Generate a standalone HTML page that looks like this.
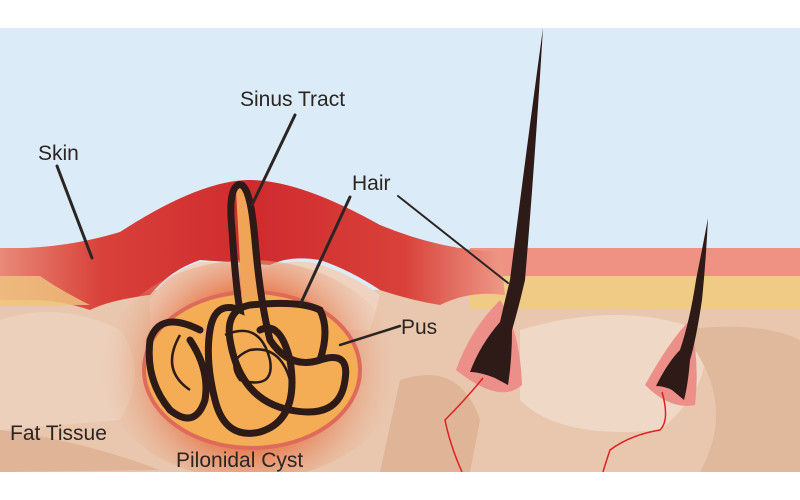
<!DOCTYPE html>
<html><head><meta charset="utf-8"><style>
html,body{margin:0;padding:0;background:#fff}
svg{display:block}
text{font-family:"Liberation Sans",sans-serif;fill:#2b2523}
</style></head><body>
<svg width="800" height="500" viewBox="0 0 800 500">
<defs>
<radialGradient id="glow" cx="250" cy="370" r="150" gradientUnits="userSpaceOnUse">
<stop offset="0.5" stop-color="#e8774a"/><stop offset="1" stop-color="#e8c0a5" stop-opacity="0"/>
</radialGradient>
<linearGradient id="red" x1="0" x2="1"><stop offset="0" stop-color="#e88a78"/><stop offset="0.2" stop-color="#d9413a"/><stop offset="0.5" stop-color="#cf2b2e"/><stop offset="0.8" stop-color="#d9413a"/><stop offset="1" stop-color="#ee9a88"/></linearGradient>
</defs>
<rect x="0" y="28" width="800" height="444" fill="#dcebf8"/>
<rect x="0" y="290" width="800" height="182" fill="#e9c7ae"/>
<path d="M0 320 Q60 300 120 330 Q150 370 120 420 L0 430Z" fill="#ecd0bb"/>
<path d="M520 330 Q620 300 700 330 Q720 380 660 430 Q560 440 520 400Z" fill="#efd8c6"/>
<path d="M0 430 Q80 440 160 470 L0 472Z" fill="#dfb497"/>
<path d="M680 330 Q760 320 800 340 L800 472 L700 472 Q740 400 680 330Z" fill="#e0b89c"/>
<path d="M400 380 Q460 360 480 420 L470 472 L380 472Z" fill="#dfb497"/>
<rect x="470" y="248" width="330" height="28" fill="#ef9283"/>
<rect x="470" y="276" width="330" height="33" fill="#efcb85"/>
<rect x="0" y="248" width="60" height="28" fill="#e58272"/>
<rect x="0" y="276" width="60" height="30" fill="#efc680"/>
<path d="M0 248 Q60 250 120 232 Q200 180 250 180 Q300 180 380 225 Q440 250 500 252 L505 295 Q470 290 440 305 Q410 300 380 290 Q350 270 320 260 Q290 255 270 265 Q230 262 200 260 Q170 270 150 295 Q110 300 90 310 Q60 300 30 300 L0 300Z" fill="url(#red)"/>
<path d="M0 276 L40 276 Q60 290 90 305 L0 305Z" fill="#efc680" opacity="0.8"/>
<path d="M150 300 Q170 270 200 262 Q230 262 265 268 Q300 255 330 268 Q360 280 380 295 L370 330 L150 330Z" fill="#efd3c0"/>
<ellipse cx="250" cy="370" rx="150" ry="110" fill="url(#glow)"/>
<ellipse cx="252" cy="370" rx="110" ry="80" fill="#de6b5a"/>
<ellipse cx="252" cy="370" rx="106" ry="76" fill="#f4ad55"/>
<path d="M236 190 Q240 180 246 190 L258 300 L242 300Z" fill="#f0a458"/>
<g fill="none" stroke="#2e1a16" stroke-width="7" stroke-linecap="round">
<path d="M238 185 Q228 190 232 230 Q236 290 240 310 Q215 300 210 330 Q205 360 215 400 Q225 440 260 432 Q300 420 290 360 Q280 320 260 330"/>
<path d="M238 185 Q250 180 255 240 Q260 300 270 340 Q290 370 320 360 Q350 350 345 380 Q340 420 290 410 Q240 400 230 340 Q225 310 250 305 Q300 300 320 310 Q330 330 320 360"/>
<path d="M200 330 Q160 310 150 340 Q145 380 170 410 Q195 430 205 400 Q210 370 190 340"/>
</g>
<g fill="none" stroke="#2e1a16" stroke-width="2.5">
<path d="M180 335 Q160 370 190 390"/>
<path d="M225 335 Q260 320 270 360 Q275 390 240 380 Q225 360 250 350 Q280 345 290 380"/>
</g>
<path d="M456 370 Q470 330 500 300 Q520 330 522 385 Q500 405 456 370Z" fill="#ec8f88"/>
<path d="M470 372 Q480 345 500 322 Q505 300 510 280 Q525 160 543 28 Q535 160 525 280 Q518 310 512 330 Q512 360 508 385 L495 378 Q480 372 470 372Z" fill="#2e1a16"/>
<path d="M645 385 Q670 340 690 320 Q700 360 695 405 Q670 410 645 385Z" fill="#ec8f88"/>
<path d="M656 386 Q668 362 680 350 Q690 320 696 280 Q704 240 708 218 Q706 260 702 300 Q696 340 690 360 Q688 385 684 400 L672 390 Q664 386 656 386Z" fill="#2e1a16"/>
<g fill="none" stroke="#e1201f" stroke-width="1.5">
<path d="M483 378 Q465 400 445 420 Q450 445 462 472"/>
<path d="M662 392 Q670 420 660 430 Q630 435 610 450 Q605 465 603 472"/>
</g>
<g stroke="#2b2523" stroke-linecap="round">
<path d="M57 166 L92 258" stroke-width="3"/>
<path d="M295 115 L252 205" stroke-width="3"/>
<path d="M350 197 L300 305" stroke-width="3"/>
<path d="M398 196 L508 283" stroke-width="2"/>
<path d="M400 326 L340 345" stroke-width="2.5"/>
</g>
<text x="38" y="160" font-size="21">Skin</text>
<text x="240" y="106" font-size="21">Sinus Tract</text>
<text x="352" y="190" font-size="21">Hair</text>
<text x="401" y="334" font-size="21">Pus</text>
<text x="10" y="440" font-size="21">Fat Tissue</text>
<text x="176" y="467" font-size="21">Pilonidal Cyst</text>
<rect x="0" y="472" width="800" height="28" fill="#fff"/>
</svg>
</body></html>
